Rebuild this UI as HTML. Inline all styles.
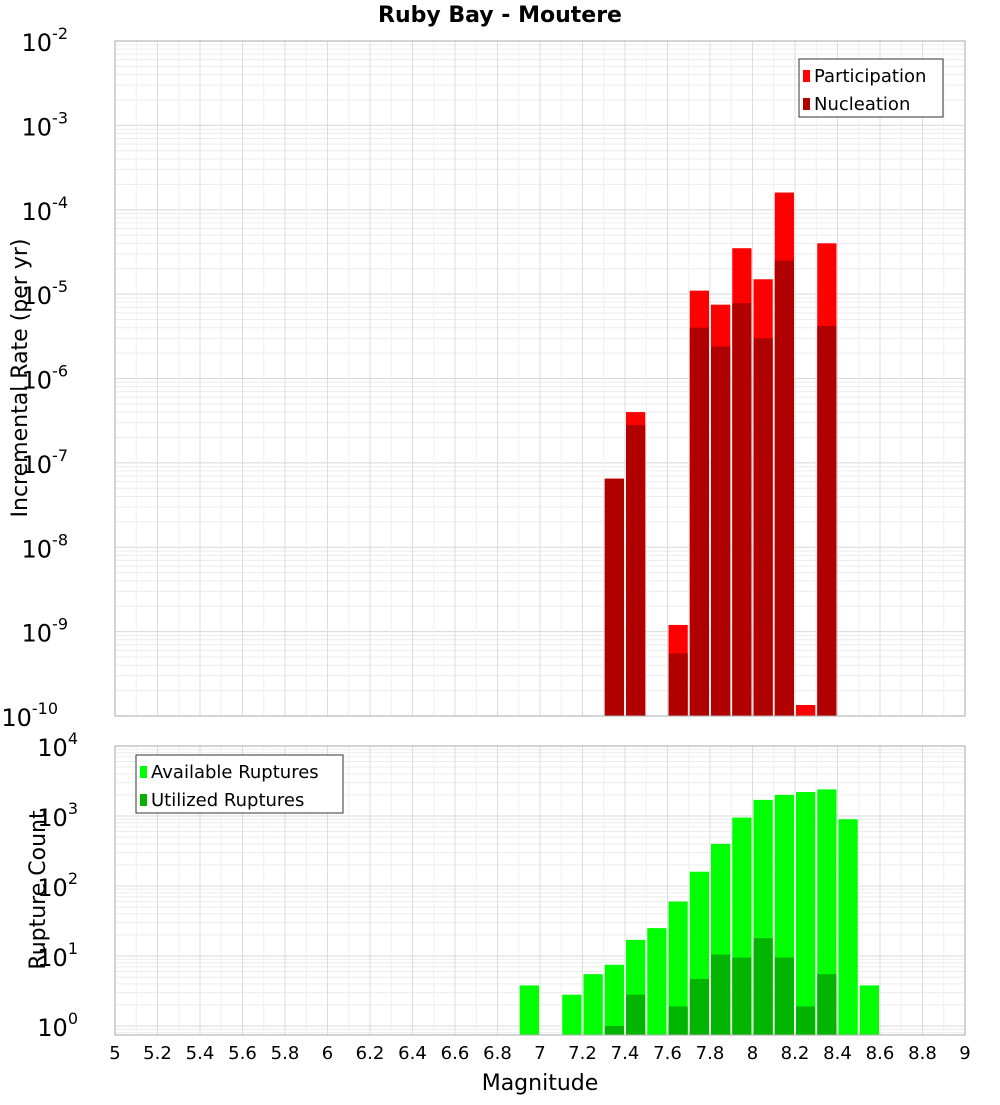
<!DOCTYPE html>
<html><head><meta charset="utf-8"><style>
body{margin:0;background:#fff;font-family:"Liberation Sans","DejaVu Sans",sans-serif;}
svg text{font-family:"DejaVu Sans","Liberation Sans",sans-serif;}
</style></head><body>
<svg id="c" width="1000" height="1100" xmlns="http://www.w3.org/2000/svg">
<rect width="1000" height="1100" fill="#fff"/>
<text x="500" y="22" text-anchor="middle" font-size="22" font-weight="bold">Ruby Bay - Moutere</text>
<text transform="translate(27,378) rotate(-90)" text-anchor="middle" font-size="22">Incremental Rate (per yr)</text>
<text transform="translate(45,890) rotate(-90)" text-anchor="middle" font-size="22">Rupture Count</text>
<text x="540" y="1090" text-anchor="middle" font-size="22">Magnitude</text>
<g id="g"></g>
</svg>
<script>
const topBins=[7.35,7.45,7.65,7.75,7.85,7.95,8.05,8.15,8.25,8.35];
const participation=[6.5e-8,4e-7,1.2e-9,1.1e-5,7.5e-6,3.5e-5,1.5e-5,1.6e-4,1.35e-10,4e-5];
const nucleation=[6.5e-8,2.8e-7,5.5e-10,4e-6,2.4e-6,7.8e-6,3e-6,2.5e-5,0,4.2e-6];
const botBins=[6.95,7.15,7.25,7.35,7.45,7.55,7.65,7.75,7.85,7.95,8.05,8.15,8.25,8.35,8.45,8.55];
const available=[3.8,2.8,5.5,7.5,17,25,60,160,400,950,1700,2000,2200,2400,900,3.8];
const utilized=[0,0,0,1,2.8,0,1.9,4.7,10.5,9.5,18,9.5,1.9,5.5,0,0];
const xTicks=["5","5.2","5.4","5.6","5.8","6","6.2","6.4","6.6","6.8","7","7.2","7.4","7.6","7.8","8","8.2","8.4","8.6","8.8","9"];
const topExps=[-10,-9,-8,-7,-6,-5,-4,-3,-2];
const botExps=[0,1,2,3,4];

const NS="http://www.w3.org/2000/svg",G=document.getElementById('g');
function mk(t,a,p){const e=document.createElementNS(NS,t);for(const k in a)e.setAttribute(k,a[k]);(p||G).appendChild(e);return e;}
const X0=115,X1=965;
const x=v=>X0+(v-5)/4*(X1-X0);
const T0=41,T1=716; const yT=v=>T0+(-2-Math.log10(v))/8*(T1-T0);
const B0=746,B1=1035,BD=70; const yB=v=>1026-Math.log10(v)*BD;

function panel(top,bot,ys,lo,hi,name){
  mk('rect',{x:X0,y:top,width:X1-X0,height:bot-top,fill:'#fff'});
  for(let e=lo;e<=hi;e++)for(let m=1;m<10;m++){const yy=ys(m*Math.pow(10,e));if(yy<top-0.5||yy>bot+0.5)continue;
    mk('line',{x1:X0,x2:X1,y1:yy,y2:yy,stroke:m==1?'#d8d8d8':'#ececec','stroke-width':1});}
  for(let i=0;i<=40;i++){const xx=x(5+i*0.1);mk('line',{x1:xx,x2:xx,y1:top,y2:bot,stroke:i%2?'#efefef':'#dcdcdc'});}
}
panel(T0,T1,yT,-10,-2);
panel(B0,B1,yB,-1,4);

topBins.forEach((b,i)=>{
  const w=x(0.1+5)-x(5);
  let r=mk('rect',{x:x(b-0.05)+1,width:w-2,y:yT(participation[i]),height:T1-yT(participation[i]),fill:'#ff0000'});
  
  if(nucleation[i]>0){let n=mk('rect',{x:x(b-0.05)+1,width:w-2,y:yT(nucleation[i]),height:T1-yT(nucleation[i]),fill:'#b00000'});
  }
});
botBins.forEach((b,i)=>{
  const w=x(5.1)-x(5);
  let r=mk('rect',{x:x(b-0.05)+1,width:w-2,y:yB(available[i]),height:B1-yB(available[i]),fill:'#00ff00'});
  
  if(utilized[i]>0){let n=mk('rect',{x:x(b-0.05)+1,width:w-2,y:yB(utilized[i]),height:B1-yB(utilized[i]),fill:'#00b400'});
  }
});
mk('rect',{x:X0,y:T0,width:X1-X0,height:T1-T0,fill:'none',stroke:'#aaa'});
mk('rect',{x:X0,y:B0,width:X1-X0,height:B1-B0,fill:'none',stroke:'#aaa'});

function ylab(yy,e){const t=mk('text',{x:108,y:yy+10,'text-anchor':'end','font-size':24});
  
  t.textContent='10';const s=mk('tspan',{dy:-12,'font-size':16},t);s.textContent=String(e);
  t.setAttribute('x',112-24-String(e).length*10);t.setAttribute('text-anchor','end');}
topExps.forEach(e=>ylab(yT(Math.pow(10,e)),e));
botExps.forEach(e=>ylab(yB(Math.pow(10,e)),e));
xTicks.forEach(s=>{const t=mk('text',{x:x(parseFloat(s)),y:1059,'text-anchor':'middle','font-size':18});
  t.textContent=s;});

function legend(lx,ly,w,items){
  const lg=mk('g',{});
  mk('rect',{x:lx,y:ly,width:w,height:58,fill:'#fff',stroke:'#333'},lg);
  items.forEach((it,i)=>{mk('rect',{x:lx+4,y:ly+11+i*28,width:7,height:12,fill:it[1]},lg);
    const t=mk('text',{x:lx+15,y:ly+23+i*28,'font-size':18},lg);t.textContent=it[0];
    });
}
legend(799,59,144,[['Participation','#ff0000'],['Nucleation','#b00000']]);
legend(136,755,207,[['Available Ruptures','#00ff00'],['Utilized Ruptures','#00b400']]);
</script>
</body></html>
